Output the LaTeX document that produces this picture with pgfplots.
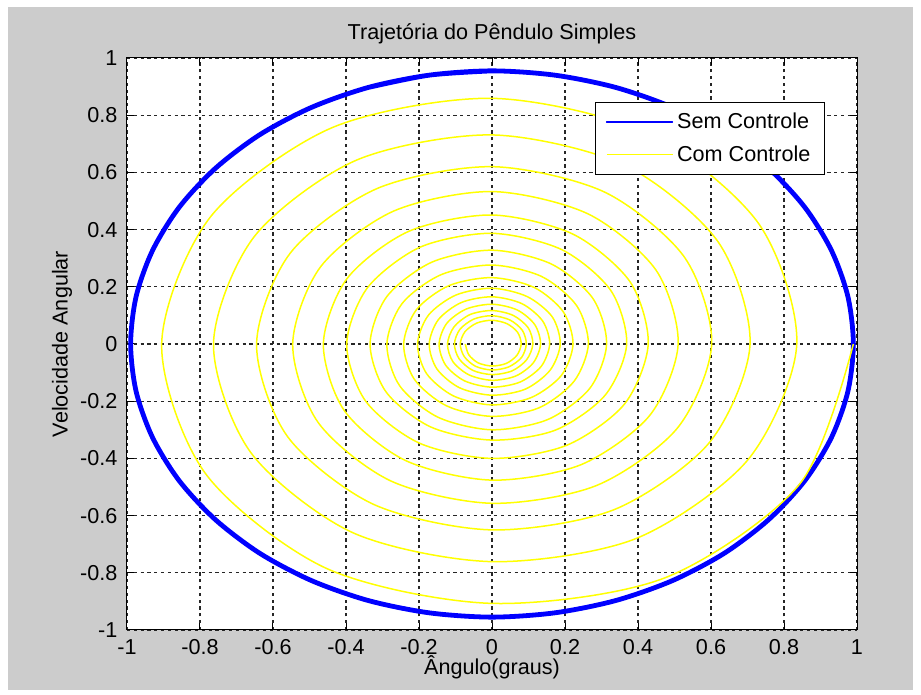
\documentclass[border=0pt]{standalone}
\usepackage{fontspec}
\setmainfont{Liberation Sans}
\usepackage{pgfplots}
\pgfplotsset{compat=1.18}
\definecolor{figgray}{RGB}{204,204,204}
\definecolor{mblue}{RGB}{0,0,255}
\definecolor{myellow}{RGB}{255,255,0}
\begin{document}
\fontsize{10.8}{12.8}\selectfont
\begin{tikzpicture}
\fill[white] (-63.5pt,-32.5pt) rectangle (397pt,315pt);
\fill[figgray] (-59.5pt,-30pt) rectangle (393pt,311.5pt);
\begin{axis}[
  at={(0pt,0pt)}, anchor=south west,
  scale only axis, width=365pt, height=286pt,
  xmin=-1, xmax=1, ymin=-1, ymax=1,
  axis background/.style={fill=white},
  xtick={-1,-0.8,-0.6,-0.4,-0.2,0,0.2,0.4,0.6,0.8,1},
  xticklabels={-1,-0.8,-0.6,-0.4,-0.2,0,0.2,0.4,0.6,0.8,1},
  ytick={-1,-0.8,-0.6,-0.4,-0.2,0,0.2,0.4,0.6,0.8,1},
  yticklabels={-1,-0.8,-0.6,-0.4,-0.2,0,0.2,0.4,0.6,0.8,1},
  tick align=inside, major tick length=3.5pt,
  tick style={black, line width=0.5pt},
  grid=major,
  major grid style={black!85, line width=0.6pt, dash pattern=on 1.6pt off 1.8pt},
  axis line style={black, line width=0.5pt},
  xticklabel style={yshift=-1pt},
  yticklabel style={xshift=-1pt},
  title={Trajetória do Pêndulo Simples},
  title style={at={(axis description cs:0.5,1.021)}, anchor=center},
  xlabel={Ângulo(graus)},
  xlabel style={at={(axis description cs:0.5,-0.0647)}, anchor=center},
  ylabel={Velocidade Angular},
  ylabel style={at={(axis description cs:-0.089,0.5)}, anchor=center},
  legend cell align=left,
  legend image code/.code={\draw[#1, line width=0.6pt] (0pt,0pt) -- (33pt,0pt);},
  legend style={at={(0.956,0.923)}, anchor=north east, draw=black, line width=0.5pt,
    fill=white, inner xsep=5pt, inner ysep=3pt, row sep=3pt,
    font=\fontsize{10.8}{12.8}\selectfont},
]
\addplot[mblue, line width=2.4pt, smooth, line join=round, line cap=round] coordinates {
(0,0.955) (-0.172,0.940) (-0.339,0.897) (-0.495,0.827) (-0.636,0.732) (-0.758,0.614)
(-0.857,0.478) (-0.930,0.327) (-0.975,0.166) (-0.990,0)
(-0.975,-0.166) (-0.930,-0.327) (-0.857,-0.478) (-0.758,-0.614) (-0.636,-0.732)
(-0.495,-0.827) (-0.339,-0.897) (-0.172,-0.940) (0,-0.955)
(0.172,-0.940) (0.339,-0.897) (0.495,-0.827) (0.636,-0.732) (0.758,-0.614)
(0.857,-0.478) (0.930,-0.327) (0.975,-0.166) (0.990,0)
(0.975,0.166) (0.930,0.327) (0.857,0.478) (0.758,0.614) (0.636,0.732)
(0.495,0.827) (0.339,0.897) (0.172,0.940) (0,0.955)
(-0.172,0.940) (-0.339,0.897)
};
\addlegendentry{Sem Controle}
\addplot[myellow, line width=0.75pt, smooth] coordinates {
(0.990,0) (0.844,-0.488) (0.473,-0.818)
(0,-0.907) (-0.453,-0.785) (-0.785,-0.453)
(-0.905,0) (-0.771,0.445) (-0.437,0.757)
(0,0.859) (0.426,0.737) (0.730,0.422)
(0.835,0) (0.701,-0.405) (0.393,-0.681)
(0,-0.761) (-0.381,-0.660) (-0.660,-0.381)
(-0.763,0) (-0.651,0.376) (-0.371,0.643)
(0,0.731) (0.362,0.626) (0.619,0.358)
(0.707,0) (0.596,-0.344) (0.335,-0.579)
(0,-0.650) (-0.324,-0.561) (-0.560,-0.324)
(-0.645,0) (-0.552,0.319) (-0.314,0.544)
(0,0.620) (0.307,0.532) (0.527,0.304)
(0.602,0) (0.508,-0.294) (0.286,-0.495)
(0,-0.557) (-0.277,-0.479) (-0.476,-0.275)
(-0.546,0) (-0.469,0.271) (-0.269,0.465)
(0,0.533) (0.263,0.455) (0.449,0.259)
(0.510,0) (0.432,-0.250) (0.244,-0.422)
(0,-0.476) (-0.236,-0.408) (-0.404,-0.234)
(-0.462,0) (-0.397,0.229) (-0.228,0.394)
(0,0.451) (0.222,0.384) (0.378,0.218)
(0.428,0) (0.363,-0.210) (0.205,-0.354)
(0,-0.400) (-0.200,-0.346) (-0.346,-0.200)
(-0.398,0) (-0.341,0.197) (-0.196,0.339)
(0,0.387) (0.191,0.330) (0.325,0.188)
(0.369,0) (0.310,-0.179) (0.174,-0.301)
(0,-0.336) (-0.168,-0.290) (-0.290,-0.168)
(-0.334,0) (-0.288,0.166) (-0.165,0.286)
(0,0.328) (0.162,0.280) (0.276,0.160)
(0.314,0) (0.268,-0.155) (0.153,-0.264)
(0,-0.300) (-0.148,-0.256) (-0.253,-0.146)
(-0.288,0) (-0.246,0.142) (-0.140,0.242)
(0,0.276) (0.136,0.236) (0.232,0.134)
(0.264,0) (0.225,-0.130) (0.129,-0.223)
(0,-0.253) (-0.125,-0.216) (-0.213,-0.123)
(-0.242,0) (-0.207,0.120) (-0.118,0.204)
(0,0.232) (0.115,0.198) (0.195,0.113)
(0.222,0) (0.190,-0.110) (0.108,-0.187)
(0,-0.213) (-0.105,-0.182) (-0.179,-0.104)
(-0.204,0) (-0.174,0.101) (-0.099,0.171)
(0,0.195) (0.096,0.166) (0.165,0.095)
(0.187,0) (0.159,-0.092) (0.091,-0.158)
(0,-0.179) (-0.089,-0.153) (-0.151,-0.087)
(-0.172,0) (-0.147,0.085) (-0.084,0.145)
(0,0.165) (0.082,0.141) (0.139,0.080)
(0.158,0) (0.135,-0.078) (0.077,-0.133)
(0,-0.151) (-0.075,-0.129) (-0.127,-0.074)
(-0.145,0) (-0.124,0.072) (-0.071,0.122)
(0,0.139) (0.069,0.119) (0.117,0.068)
(0.133,0) (0.113,-0.066) (0.065,-0.112)
(0,-0.127) (-0.063,-0.108) (-0.107,-0.062)
(-0.122,0) (-0.104,0.060) (-0.060,0.103)
(0,0.117) (0.058,0.100) (0.099,0.057)
(0.112,0) (0.095,-0.055) (0.055,-0.094)
(0,-0.107) (-0.053,-0.092) (-0.090,-0.052)
(-0.103,0) (-0.088,0.051) (-0.050,0.087)
(0,0.099) (0.049,0.084) (0.083,0.048)
(0.094,0) (0.081,-0.047) (0.046,-0.080)
(0,-0.091) (-0.045,-0.078) (-0.076,-0.044)
(-0.087,0) (-0.074,0.043) (-0.042,0.073)
(0,0.083) (0.041,0.071) (0.070,0.041)
(0.080,0) (0.068,-0.040) (0.039,-0.068)
(0,-0.077) (-0.038,-0.066) (-0.064,-0.037)
(-0.073,0)
};
\addlegendentry{Com Controle}
\end{axis}
\end{tikzpicture}
\end{document}
